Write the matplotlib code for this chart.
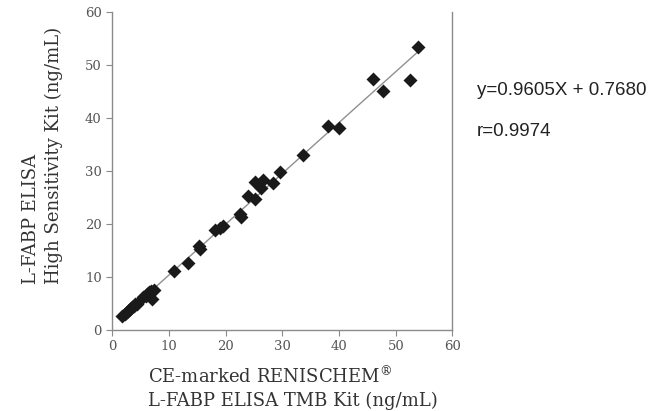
import numpy as np
import matplotlib
matplotlib.use("Agg")
import matplotlib.pyplot as plt

# CE-marked kit (x) vs high sensitivity kit (y), ng/mL
ce_kit = [1.8, 2.3, 2.7, 2.9, 3.2, 3.5, 3.8, 4.1, 4.4, 5.5, 5.9, 6.2, 6.5, 6.8, 7.0, 7.4,
          10.9, 13.4, 15.4, 15.5, 18.1, 19.0, 19.6, 22.5, 22.7, 24.0, 25.2, 25.2, 26.2,
          26.6, 28.3, 29.6, 33.7, 38.0, 40.0, 45.9, 47.8, 52.5, 54.0]
hs_kit = [2.6, 3.1, 3.4, 3.8, 4.0, 4.3, 4.6, 4.9, 5.0, 6.2, 6.5, 6.8, 7.1, 7.4, 5.9, 7.6,
          11.1, 12.6, 15.9, 15.3, 18.9, 19.3, 19.7, 22.0, 21.4, 25.3, 28.0, 24.8, 26.9,
          28.3, 27.7, 29.9, 33.0, 38.5, 38.2, 47.4, 45.1, 47.3, 53.4]
slope = 0.9605
intercept = 0.7680

plt.rcParams['font.family'] = ['DejaVu Serif']
plt.rcParams['mathtext.fontset'] = 'dejavuserif'

fig = plt.figure(figsize=(6.52, 4.11), dpi=100)
ax = fig.add_axes([0.172, 0.197, 0.522, 0.773])

# regression line across the data range
xs = np.array([min(ce_kit), max(ce_kit)])
ax.plot(xs, slope * xs + intercept, color='#909090', lw=1.0, zorder=1)
ax.plot(ce_kit, hs_kit, 'D', color='#1a1a1a', ms=7, mec='none', zorder=2)

ax.set_xlim(0, 60)
ax.set_ylim(0, 60)
ax.set_xticks(range(0, 61, 10))
ax.set_yticks(range(0, 61, 10))
ax.spines['top'].set_visible(False)
for s in ['left', 'bottom', 'right']:
    ax.spines[s].set_color('#8a8a8a')
    ax.spines[s].set_linewidth(1.0)
ax.tick_params(direction='out', length=4, color='#8a8a8a', labelcolor='#555555',
               labelsize=9.5)

fig.text(0.227, 0.109, 'CE-marked RENISCHEM$^{\u00ae}$\nL-FABP ELISA TMB Kit (ng/mL)',
         ha='left', va='top', fontsize=13, color='#333333', linespacing=1.3)
fig.text(0.033, 0.31, 'L-FABP ELISA\nHigh Sensitivity Kit (ng/mL)', rotation=90,
         ha='left', va='bottom', fontsize=13, color='#333333', linespacing=1.4,
         multialignment='left')

fig.text(0.731, 0.781, 'y=0.9605X + 0.7680', family='Liberation Sans', fontsize=13.5,
         color='#222222', va='center')
fig.text(0.731, 0.681, 'r=0.9974', family='Liberation Sans', fontsize=13.5,
         color='#222222', va='center')

fig.savefig('out.png', dpi=100)
